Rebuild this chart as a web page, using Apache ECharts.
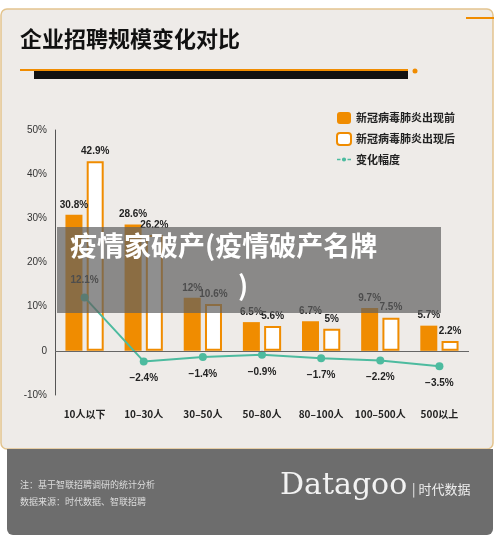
<!DOCTYPE html>
<html><head><meta charset="utf-8">
<script src="https://cdn.jsdelivr.net/npm/echarts@6/dist/echarts.min.js"></script>
<style>html,body{margin:0;padding:0;background:#fff}#c{width:500px;height:543px}</style>
</head><body><div id="c"></div>
<script>
const categories=['10人以下','10–30人','30–50人','50–80人','80–100人','100–500人','500以上'];
const before=[30.8,28.6,12,6.5,6.7,9.7,5.7];
const after=[42.9,26.2,10.6,5.6,5,7.5,2.2];
const change=[12.1,-2.4,-1.4,-0.9,-1.7,-2.2,-3.5];
const F='"Noto Sans CJK SC","Noto Sans",sans-serif';
const ch=echarts.init(document.getElementById('c'));
ch.setOption({
 animation:false,
 backgroundColor:'#fff',
 graphic:[
  {type:'rect',z:-10,shape:{x:1,y:9,width:492,height:440,r:6},style:{fill:'#eeebe8',stroke:'#e3c48e',lineWidth:1.5}},
  {type:'rect',z:-9,shape:{x:7,y:449,width:486,height:86,r:[0,0,6,6]},style:{fill:'#6d6d6d'}},
  {type:'text',left:20,top:28,style:{text:'企业招聘规模变化对比',fill:'#111',font:'bold 22px '+F}},
  {type:'rect',shape:{x:20,y:69,width:388,height:2},style:{fill:'#f08c00'}},
  {type:'rect',shape:{x:34,y:71,width:374,height:8},style:{fill:'#111'}},
  {type:'circle',shape:{cx:415,cy:71,r:2.5},style:{fill:'#f08c00'}},
  {type:'rect',shape:{x:466,y:17,width:28,height:2},style:{fill:'#f08c00'}},
  {type:'text',left:20,top:480,style:{text:'注：基于智联招聘调研的统计分析',fill:'#ddd',font:'9px '+F}},
  {type:'text',left:20,top:497,style:{text:'数据来源：时代数据、智联招聘',fill:'#ddd',font:'9px '+F}},
  {type:'text',left:280,top:471,style:{text:'Datagoo',fill:'#f2f2f2',font:'30px "DejaVu Serif",serif'}},
  {type:'text',left:412,top:483,style:{text:'| 时代数据',fill:'#eee',font:'13px '+F}},
  {type:'rect',z:100,shape:{x:57,y:227,width:384,height:86},style:{fill:'rgba(95,95,95,0.7)'}},
  {type:'text',z:101,left:70,top:232,style:{text:'疫情家破产(疫情破产名牌',fill:'#fff',font:'bold 27px '+F}},
  {type:'text',z:101,left:238,top:272,style:{text:')',fill:'#fff',font:'bold 27px '+F}}
 ],
 legend:{right:40,top:107,orient:'vertical',itemGap:8,itemWidth:14,itemHeight:12,
  textStyle:{fontFamily:F,fontSize:11,fontWeight:'bold',color:'#222'},
  data:[{name:'新冠病毒肺炎出现前'},{name:'新冠病毒肺炎出现后'},{name:'变化幅度',icon:'path://M0,9L5,9L5,11L0,11ZM7,10A3,3,0,1,0,13,10A3,3,0,1,0,7,10ZM15,9L20,9L20,11L15,11Z'}]},
 grid:{left:55,right:31,top:130,bottom:148},
 xAxis:{type:'category',data:categories,axisLine:{show:false},axisTick:{show:false},
  axisLabel:{interval:0,fontFamily:F,fontSize:10,fontWeight:'bold',color:'#222',margin:14}},
 yAxis:{type:'value',min:-10,max:50,interval:10,
  axisLine:{show:true,lineStyle:{color:'#555'}},axisTick:{show:false},splitLine:{show:false},
  axisLabel:{formatter:v=>v===0?'0':v+'%',fontSize:10,color:'#333',fontFamily:'"Liberation Sans",sans-serif'}},
 series:[
  {name:'新冠病毒肺炎出现前',type:'bar',data:before,barWidth:17,barGap:'25%',itemStyle:{color:'#f08c00'},
   label:{show:true,position:'top',formatter:'{c}%',fontSize:10,fontWeight:'bold',color:'#222'},
   markLine:{silent:true,symbol:'none',label:{show:false},lineStyle:{color:'#666',type:'solid',width:1},data:[{yAxis:0}]}},
  {name:'新冠病毒肺炎出现后',type:'bar',data:after,barWidth:17,itemStyle:{color:'#fff',borderColor:'#f08c00',borderWidth:2},
   label:{show:true,position:'top',formatter:'{c}%',fontSize:10,fontWeight:'bold',color:'#222'}},
  {name:'变化幅度',type:'line',symbol:'circle',symbolSize:8,itemStyle:{color:'#4dbb9f'},lineStyle:{color:'#4dbb9f',width:2},
   label:{show:true,formatter:p=>(p.value<0?'−':'')+Math.abs(p.value)+'%',fontSize:10,fontWeight:'bold',color:'#222',distance:8},
   data:change.map((v,i)=>({value:v,label:{position:i===0?'top':'bottom'}}))}
 ]
});
</script></body></html>
